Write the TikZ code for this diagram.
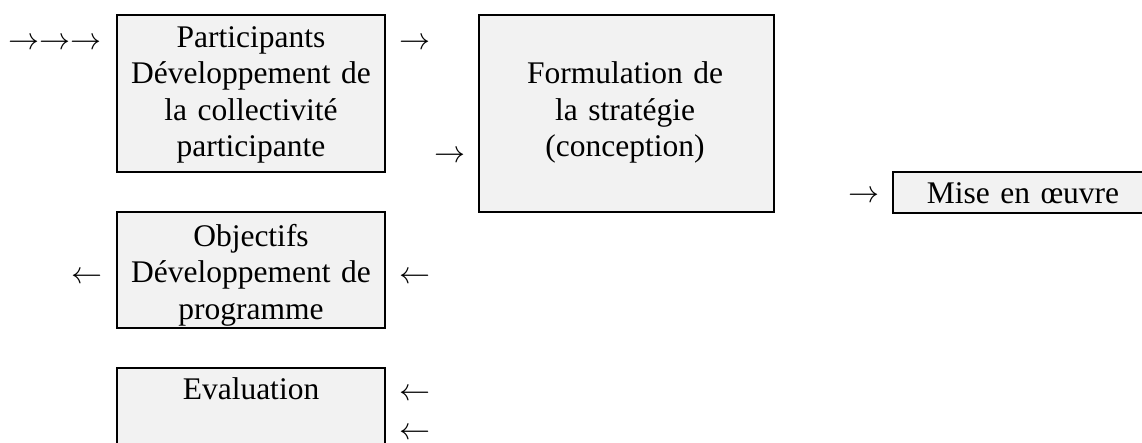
\documentclass[tikz,border=0pt]{standalone}
\usepackage{fontspec}
\setmainfont{Liberation Serif}
\definecolor{boxfill}{RGB}{242,242,242}
\tikzset{
  box/.style={draw=black, line width=2.6pt, fill=boxfill, rectangle, inner sep=0pt, outer sep=0pt},
  txt/.style={inner sep=0pt, outer sep=0pt, text width=#1, align=center, anchor=base,
    font=\fontsize{31.5}{36.5}\selectfont},
  txt/.default=260pt,
  glyph/.style={inner sep=0pt, outer sep=0pt, anchor=base, font=\normalsize, scale=3.1}
}
\begin{document}
\begin{tikzpicture}[x=1pt,y=-1pt]
\useasboundingbox (0,0) rectangle (1142,442);
% boxes
\node[box, minimum width=268pt, minimum height=157pt] (part) at (251,93.5) {};
\node[box, minimum width=295pt, minimum height=197pt] (form) at (626.5,113.5) {};
\node[box, minimum width=268pt, minimum height=116pt] (obj) at (251,270) {};
\node[box, minimum width=268pt, minimum height=100pt] (eval) at (251,418) {};
\node[box, minimum width=259pt, minimum height=41pt] (mise) at (1022.5,192.5) {};
% texts
\node[txt] (partT) at (251,47) {Participants\\Développement de\\la collectivité\\participante};
\node[txt=290pt] (formT) at (625,83.5) {Formulation de\\la stratégie\\(conception)};
\node[txt] (objT) at (251,246) {Objectifs\\Développement de\\programme};
\node[txt] (evalT) at (251,399) {Evaluation};
\node[txt=250pt] (miseT) at (1023,203) {Mise en œuvre};
% arrow glyphs
\node[glyph] (a1) at (55.5,49.8) {$\rightarrow\rightarrow\rightarrow$};
\node[glyph] (a2) at (415,49.8) {$\rightarrow$};
\node[glyph] (a3) at (450,162.8) {$\rightarrow$};
\node[glyph] (a4) at (863.5,202.8) {$\rightarrow$};
\node[glyph] (a5) at (87,283.8) {$\leftarrow$};
\node[glyph] (a6) at (415,283.8) {$\leftarrow$};
\node[glyph] (a7) at (415,400.8) {$\leftarrow$};
\node[glyph] (a8) at (415,439.8) {$\leftarrow$};
\end{tikzpicture}
\end{document}
